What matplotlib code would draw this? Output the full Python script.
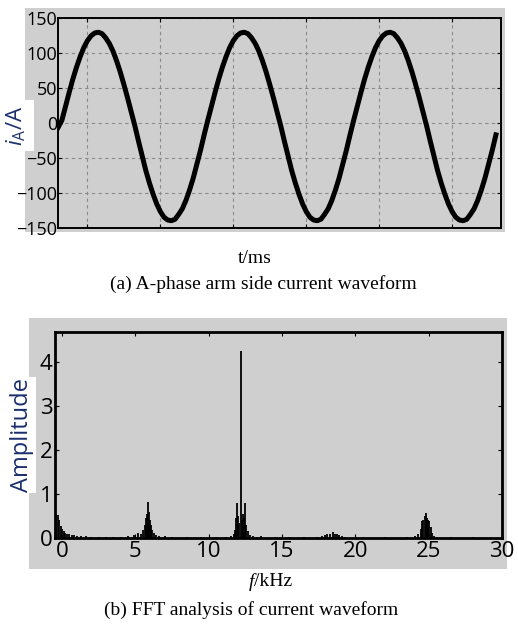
import matplotlib
matplotlib.use("Agg")
import matplotlib.pyplot as plt
from matplotlib.patches import Rectangle

# (a) A-phase arm current, one reading every 0.5 ms (t = 0 ... 60 ms)
t_ms = [k * 0.5 for k in range(121)]
i_a = [-6, 4, 24, 44, 63, 80, 95, 108, 118, 125, 129, 130, 128, 122, 114, 103, 89, 73, 55, 36,
       16, -4, -26, -47, -68, -86, -102, -116, -127, -135, -139, -140, -138, -131, -123, -111,
       -96, -79, -59, -39,
       -17, 4, 24, 44, 63, 80, 95, 108, 118, 125, 129, 130, 128, 122, 114, 103, 89, 73, 55, 36,
       16, -4, -26, -47, -68, -86, -102, -116, -127, -135, -139, -140, -138, -131, -123, -111,
       -96, -79, -59, -39,
       -17, 4, 24, 44, 63, 80, 95, 108, 118, 125, 129, 130, 128, 122, 114, 103, 89, 73, 55, 36,
       16, -4, -26, -47, -68, -86, -102, -116, -127, -135, -139, -140, -138, -131, -123, -111,
       -96, -79, -59, -39, -17]
t_grid = [4, 14, 24, 34, 44, 54]
i_ticks = [-150, -100, -50, 0, 50, 100, 150]

# (b) FFT spectrum lines
f_khz = [-0.4, -0.3, -0.2, -0.1, 0.0, 0.1, 0.2, 0.35, 0.5, 0.65, 0.8, 1.0, 1.3, 1.6,
         2.0, 2.5, 3.0, 3.5, 4.0, 4.5, 4.9, 5.2, 5.4, 5.55, 5.65, 5.75, 5.82, 5.88,
         5.94, 6.0, 6.08, 6.15, 6.25, 6.4, 6.6, 7.0, 7.5, 8.5, 9.5, 10.5, 11.2, 11.5,
         11.7, 11.8, 11.88, 11.95, 12.02, 12.1, 12.18, 12.26, 12.33, 12.4, 12.47,
         12.55, 12.65, 12.8, 13.0, 13.3, 13.6, 14.5, 15.5, 16.5, 17.4, 17.7, 17.9,
         18.1, 18.3, 18.45, 18.6, 18.75, 18.9, 19.1, 19.3, 20.5, 22.0, 23.5, 24.1,
         24.3, 24.45, 24.55, 24.65, 24.72, 24.8, 24.88, 24.95, 25.05, 25.15, 25.25,
         25.4, 25.6, 26.5, 28.0]
amp = [0.55, 0.52, 0.4, 0.28, 0.2, 0.15, 0.12, 0.09, 0.1, 0.07, 0.06, 0.05, 0.05, 0.04,
       0.03, 0.03, 0.03, 0.03, 0.03, 0.04, 0.06, 0.12, 0.1, 0.18, 0.3, 0.45, 0.55, 0.83,
       0.6, 0.42, 0.3, 0.18, 0.12, 0.06, 0.05, 0.04, 0.03, 0.02, 0.02, 0.02, 0.03, 0.05,
       0.1, 0.18, 0.45, 0.8, 0.5, 0.35, 4.26, 0.4, 0.55, 0.45, 0.8,
       0.3, 0.15, 0.07, 0.04, 0.03, 0.04, 0.02, 0.02, 0.02, 0.03, 0.05, 0.06,
       0.08, 0.1, 0.13, 0.09, 0.1, 0.07, 0.05, 0.03, 0.02, 0.02, 0.03, 0.05,
       0.1, 0.2, 0.38, 0.42, 0.5, 0.57, 0.45, 0.42, 0.38, 0.25, 0.12,
       0.05, 0.03, 0.02, 0.02]
f_ticks = [0, 5, 10, 15, 20, 25, 30]
amp_ticks = [0, 1, 2, 3, 4]

gray = '#cfcfcf'
blue = '#1c2f6e'

plt.rcParams['font.family'] = ['Open Sans', 'DejaVu Sans']
plt.rcParams['mathtext.fontset'] = 'custom'
plt.rcParams['mathtext.sf'] = 'Open Sans:italic'
plt.rcParams['mathtext.bf'] = 'Open Sans'

fig = plt.figure(figsize=(5.18, 6.25), dpi=100)

# gray screenshot backgrounds
fig.patches.append(Rectangle((0.048, 0.629), 0.927, 0.358, transform=fig.transFigure,
                             facecolor=gray, edgecolor='none', zorder=-5))
fig.patches.append(Rectangle((0.056, 0.0896), 0.923, 0.4016, transform=fig.transFigure,
                             facecolor=gray, edgecolor='none', zorder=-5))

# (a) waveform
ax1 = fig.add_axes([0.1125, 0.6357, 0.8547, 0.335])
ax1.set_zorder(2)
ax1.set_facecolor(gray)
ax1.plot(t_ms, i_a, color='black', linewidth=3.6, solid_joinstyle='round')
ax1.set_xlim(0, 60.7)
ax1.set_ylim(-150, 150)
ax1.set_xticks(t_grid)
ax1.set_yticks(i_ticks)
ax1.tick_params(direction='in', top=True, right=True, length=3, labelbottom=False,
                labelsize=13, pad=1)
ax1.grid(True, linestyle=(0, (3, 3)), linewidth=0.8, color='#8a8a8a')
for s in ax1.spines.values():
    s.set_linewidth(1.4)

# (b) FFT
ax2 = fig.add_axes([0.1062, 0.1392, 0.8628, 0.330])
ax2.set_zorder(2)
ax2.set_facecolor(gray)
ax2.vlines(f_khz, 0, amp, color='black', linewidth=1.3)
ax2.set_xlim(-0.48, 30)
ax2.set_ylim(0, 4.7)
ax2.set_xticks(f_ticks)
ax2.set_yticks(amp_ticks)
ax2.tick_params(direction='in', top=True, right=True, length=3, labelsize=16, pad=2)
for s in ax2.spines.values():
    s.set_linewidth(2)

# axis labels with white boxes
fig.text(0.032, 0.799, r'$\mathsf{i}_{\mathbf{A}}$/A', rotation=90, ha='center', va='center',
         fontsize=16, color=blue, zorder=5,
         bbox=dict(facecolor='white', edgecolor='none', pad=4))
fig.text(0.043, 0.304, 'Amplitude', rotation=90, ha='center', va='center',
         fontsize=17, color=blue, zorder=5,
         bbox=dict(facecolor='white', edgecolor='none', pad=1))

# captions
serif = 'Liberation Serif'
fig.text(0.492, 0.587, 't/ms', ha='center', va='center', family=serif, fontsize=14)
fig.text(0.508, 0.546, '(a) A-phase arm side current waveform', ha='center', va='center',
         family=serif, fontsize=14)
fig.text(0.491, 0.069, 'f', ha='right', va='center', family=serif, style='italic', fontsize=14)
fig.text(0.491, 0.069, '/kHz', ha='left', va='center', family=serif, fontsize=14)
fig.text(0.485, 0.024, '(b) FFT analysis of current waveform', ha='center', va='center',
         family=serif, fontsize=14)

fig.savefig('out.png', dpi=100)
